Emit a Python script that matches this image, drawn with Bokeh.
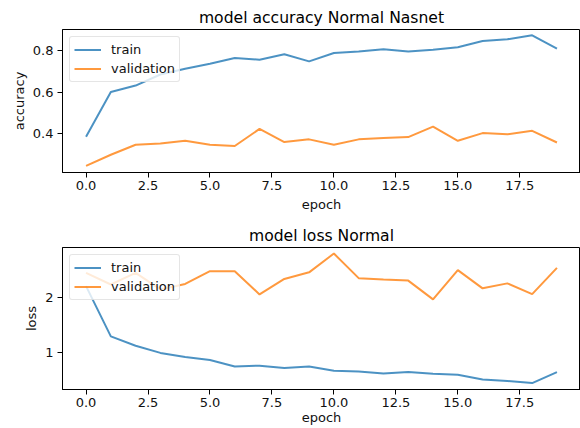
from bokeh.plotting import figure
from bokeh.layouts import column
from bokeh.models import FixedTicker, Range1d
from bokeh.embed import file_html
from bokeh.resources import INLINE

epochs = list(range(20))
acc_train = [0.386, 0.600, 0.631, 0.684, 0.712, 0.736, 0.763, 0.755, 0.781, 0.747,
             0.787, 0.795, 0.805, 0.794, 0.803, 0.815, 0.845, 0.853, 0.872, 0.808]
acc_val = [0.246, 0.299, 0.347, 0.353, 0.366, 0.347, 0.341, 0.423, 0.360, 0.373,
           0.347, 0.373, 0.379, 0.384, 0.434, 0.366, 0.403, 0.397, 0.414, 0.358]
loss_train = [2.20, 1.29, 1.12, 0.99, 0.916, 0.86, 0.745, 0.758, 0.716, 0.745,
              0.667, 0.655, 0.618, 0.643, 0.612, 0.594, 0.51, 0.48, 0.444, 0.643]
loss_val = [2.44, 2.23, 2.44, 2.14, 2.24, 2.47, 2.47, 2.05, 2.33, 2.45,
            2.79, 2.345, 2.32, 2.30, 1.96, 2.49, 2.16, 2.25, 2.055, 2.53]

x_ticks = [0, 2.5, 5, 7.5, 10, 12.5, 15, 17.5]
x_tick_labels = ["0.0", "2.5", "5.0", "7.5", "10.0", "12.5", "15.0", "17.5"]
acc_ticks = [0.4, 0.6, 0.8]
acc_tick_labels = ["0.4", "0.6", "0.8"]
loss_ticks = [1, 2]
loss_tick_labels = ["1", "2"]
series_names = ["train", "validation"]
titles = ["model accuracy Normal Nasnet", "model loss Normal"]
y_labels = ["accuracy", "loss"]
x_label = "epoch"

BLUE = "#1f77b4"
ORANGE = "#ff7f0e"
FONT = "DejaVu Sans"


def make_plot(title, ylab, train, val, yticks, ylabels, yrange, top, bottom, height,
              xl_standoff, xlab_standoff):
    p = figure(width=580, height=height, output_backend="svg", toolbar_location=None,
               x_range=Range1d(-0.95, 19.95), y_range=Range1d(*yrange),
               min_border_left=62, min_border_right=0,
               min_border_top=top, min_border_bottom=bottom)
    p.title.text = title
    p.title.align = "center"
    p.title.text_font = FONT
    p.title.text_font_size = "15.6px"
    p.title.text_font_style = "normal"
    p.title.text_color = "#000000"
    p.title.standoff = 6

    p.xgrid.visible = False
    p.ygrid.visible = False
    p.outline_line_color = "#000000"
    p.outline_line_width = 1
    p.outline_line_alpha = 1
    p.background_fill_color = "white"
    p.border_fill_color = "white"

    p.line(epochs, train, color=BLUE, line_width=2, line_alpha=0.8,
           legend_label=series_names[0])
    p.line(epochs, val, color=ORANGE, line_width=2, line_alpha=0.8,
           legend_label=series_names[1])

    for ax in (p.xaxis[0], p.yaxis[0]):
        ax.major_tick_out = 5
        ax.major_tick_in = 0
        ax.minor_tick_out = 0
        ax.minor_tick_in = 0
        ax.axis_line_color = "#000000"
        ax.major_tick_line_color = "#000000"
        ax.major_label_text_font = FONT
        ax.major_label_text_font_size = "13px"
        ax.major_label_text_color = "#111111"
        ax.axis_label_text_font = FONT
        ax.axis_label_text_font_size = "13px"
        ax.axis_label_text_font_style = "normal"
        ax.axis_label_text_color = "#111111"

    p.xaxis[0].ticker = FixedTicker(ticks=x_ticks)
    p.xaxis[0].major_label_overrides = {float(t): l for t, l in zip(x_ticks, x_tick_labels)}
    p.xaxis[0].axis_label = x_label
    p.xaxis[0].major_label_standoff = xl_standoff
    p.xaxis[0].axis_label_standoff = xlab_standoff

    p.yaxis[0].ticker = FixedTicker(ticks=yticks)
    p.yaxis[0].major_label_overrides = {float(t): l for t, l in zip(yticks, ylabels)}
    p.yaxis[0].axis_label = ylab
    p.yaxis[0].major_label_standoff = 4
    p.yaxis[0].axis_label_standoff = 3

    lg = p.legend[0]
    lg.location = "top_left"
    lg.margin = 7
    lg.padding = 4
    lg.spacing = 2
    lg.glyph_width = 27
    lg.glyph_height = 17
    lg.label_height = 17
    lg.label_standoff = 10
    lg.label_text_font = FONT
    lg.label_text_font_size = "13px"
    lg.label_text_color = "#111111"
    lg.border_line_color = "#cccccc"
    lg.border_line_width = 1
    lg.background_fill_color = "white"
    lg.background_fill_alpha = 0.8
    try:
        lg.border_radius = 3
    except Exception:
        pass
    return p


p1 = make_plot(titles[0], y_labels[0], acc_train, acc_val, acc_ticks, acc_tick_labels,
               (0.214, 0.90), 29, 42, 214, 3, 4)
p2 = make_plot(titles[1], y_labels[1], loss_train, loss_val, loss_ticks, loss_tick_labels,
               (0.327, 2.90), 33, 39, 214, 3, 0)

layout = column(p1, p2, spacing=0)
open("out.html", "w").write(file_html(layout, INLINE))
